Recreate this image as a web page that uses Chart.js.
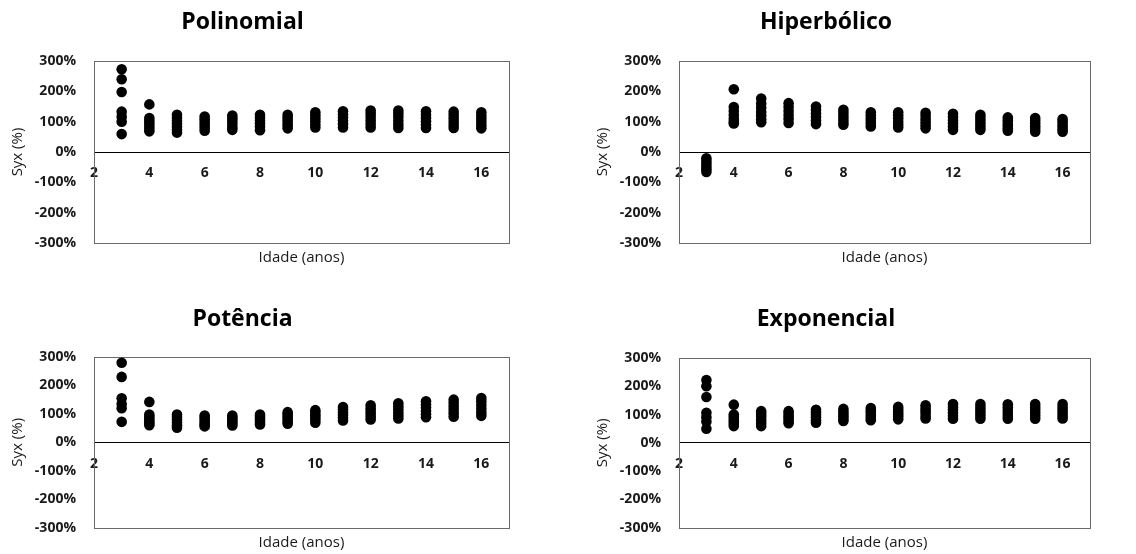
<!DOCTYPE html>
<html>
<head>
<meta charset="utf-8">
<script src="https://cdn.jsdelivr.net/npm/chart.js@4"></script>
<style>
  html, body { margin: 0; padding: 0; background: #fff; overflow: hidden; width: 1136px; height: 554px; position: relative; }
  canvas { position: absolute; }
</style>
</head>
<body>
<canvas id="c1" width="568" height="277" style="left:-24px;top:0px"></canvas>
<canvas id="c2" width="568" height="277" style="left:562px;top:0px"></canvas>
<canvas id="c3" width="568" height="277" style="left:-24px;top:277px"></canvas>
<canvas id="c4" width="568" height="277" style="left:562px;top:277px"></canvas>
<script>
// ages (x) and tick labels
var AGES = [3, 4, 5, 6, 7, 8, 9, 10, 11, 12, 13, 14, 15, 16];
var X_TICKS = [2, 4, 6, 8, 10, 12, 14, 16];
var Y_TICKS = [-300, -200, -100, 0, 100, 200, 300];

// Syx (%) values per age, one row per age in AGES
var POLINOMIAL = [
  [273, 240, 198, 133, 116, 100, 59],
  [157, 112, 103, 95, 86, 77, 68],
  [123, 113, 103, 93, 83, 73, 64],
  [117, 108, 99, 90, 80, 70],
  [120, 111, 102, 92, 82, 73],
  [123, 114, 104, 94, 83, 72],
  [123, 114, 105, 96, 87, 78],
  [131, 121, 111, 101, 91, 81],
  [134, 124, 114, 103, 92, 81],
  [137, 126, 115, 104, 92, 81],
  [137, 126, 115, 103, 91, 79],
  [134, 123, 112, 101, 90, 79],
  [133, 122, 111, 100, 89, 79],
  [131, 120, 110, 99, 88, 78]
];
var HIPERBOLICO = [
  [-21, -30, -39, -48, -57, -66],
  [207, 148, 135, 122, 110, 100, 94],
  [176, 160, 146, 132, 120, 108, 98],
  [161, 148, 135, 122, 110, 96],
  [150, 139, 127, 115, 103, 92],
  [139, 129, 119, 109, 99, 90],
  [131, 121, 111, 102, 93, 84],
  [131, 121, 111, 100, 90, 81],
  [129, 119, 108, 98, 88, 78],
  [126, 115, 104, 94, 83, 73],
  [123, 113, 103, 93, 83, 73],
  [114, 105, 96, 87, 78, 70],
  [112, 103, 94, 85, 76, 67],
  [109, 101, 92, 84, 75, 67]
];
var POTENCIA = [
  [280, 230, 155, 135, 120, 72],
  [142, 98, 90, 82, 74, 67, 60],
  [98, 89, 80, 70, 60, 51],
  [94, 86, 78, 70, 63, 56],
  [94, 87, 80, 73, 66, 59],
  [98, 91, 84, 77, 70, 63],
  [106, 98, 90, 82, 73, 65],
  [113, 104, 95, 87, 78, 69],
  [124, 115, 105, 96, 86, 77],
  [130, 120, 110, 100, 90, 80],
  [137, 127, 116, 105, 94, 84],
  [144, 133, 122, 110, 99, 88],
  [150, 138, 126, 114, 102, 90],
  [156, 144, 131, 118, 105, 93]
];
var EXPONENCIAL = [
  [222, 200, 162, 106, 90, 75, 50],
  [135, 100, 92, 84, 76, 67, 59],
  [112, 102, 92, 81, 70, 59],
  [112, 103, 94, 86, 77, 69],
  [117, 108, 99, 90, 80, 71],
  [120, 111, 102, 94, 85, 77],
  [123, 114, 106, 97, 88, 80],
  [127, 118, 109, 101, 92, 83],
  [133, 123, 114, 105, 95, 86],
  [137, 127, 117, 106, 96, 85],
  [137, 127, 117, 106, 96, 85],
  [136, 126, 116, 105, 95, 85],
  [137, 127, 117, 106, 96, 85],
  [137, 127, 117, 106, 96, 86]
];

var FONT = "'Open Sans', sans-serif";

// frame round the plot area
var boxPlugin = {
  id: 'plotBox',
  beforeDatasetsDraw: function (chart) {
    var a = chart.chartArea, ctx = chart.ctx;
    ctx.save();
    ctx.strokeStyle = '#6a6a6a';
    ctx.lineWidth = 1;
    ctx.strokeRect(Math.round(a.left) + 0.5, Math.round(a.top) + 0.5, Math.round(a.right - a.left), Math.round(a.bottom - a.top));
    ctx.restore();
  }
};

function makeChart(id, titleText, values, g) {
  var points = [];
  for (var i = 0; i < AGES.length; i++) {
    for (var j = 0; j < values[i].length; j++) {
      points.push({x: AGES[i], y: values[i][j]});
    }
  }
  var h = 277;
  new Chart(document.getElementById(id), {
    type: 'scatter',
    data: {
      datasets: [{
        data: points,
        xAxisID: 'x',
        yAxisID: 'y',
        pointRadius: 5.3,
        pointHoverRadius: 5.3,
        pointBorderWidth: 0,
        pointBackgroundColor: '#000',
        borderColor: '#000'
      }]
    },
    options: {
      responsive: false,
      animation: false,
      events: [],
      layout: {padding: {left: 0, right: g.padRight, top: 0, bottom: 0}},
      plugins: {
        legend: {display: false},
        tooltip: {enabled: false},
        title: {
          display: true,
          text: titleText,
          color: '#000',
          font: {family: FONT, size: 23, weight: 'bold', lineHeight: 1.2},
          padding: {top: g.titleY - 13.8, bottom: g.top - g.titleY - 13.8}
        }
      },
      scales: {
        x: {
          type: 'linear',
          position: {y: 0},
          min: 2,
          max: 17,
          afterBuildTicks: function (s) { s.ticks = X_TICKS.map(function (v) { return {value: v}; }); },
          grid: {display: false, drawTicks: false},
          border: {display: true, color: '#000', width: 1},
          ticks: {padding: 13, color: '#1a1a1a', font: {family: FONT, size: 14, weight: 'bold'}}
        },
        x2: {
          type: 'linear',
          position: 'bottom',
          grid: {display: false, drawTicks: false},
          border: {display: false},
          ticks: {display: false},
          afterFit: function (s) { s.height = h - g.bottom; },
          title: {
            display: true,
            text: 'Idade (anos)',
            color: '#1a1a1a',
            font: {family: FONT, size: 15, lineHeight: 1.2},
            padding: {top: 0, bottom: g.xTitleOff - 9}
          }
        },
        y: {
          type: 'linear',
          position: 'left',
          min: -300,
          max: 300,
          afterBuildTicks: function (s) { s.ticks = Y_TICKS.map(function (v) { return {value: v}; }); },
          afterFit: function (s) { s.width = g.left; },
          grid: {display: false, drawTicks: false},
          border: {display: false},
          ticks: {
            padding: 18,
            color: '#1a1a1a',
            font: {family: FONT, size: 14, weight: 'bold'},
            callback: function (v) { return v + '%'; }
          },
          title: {
            display: true,
            text: 'Syx (%)',
            color: '#1a1a1a',
            font: {family: FONT, size: 15, lineHeight: 1.2},
            padding: {top: g.yTitleX - 9, bottom: 0}
          }
        }
      }
    },
    plugins: [boxPlugin]
  });
}

makeChart('c1', 'Polinomial', POLINOMIAL, {left: 118, padRight: 35, top: 61, bottom: 243, titleY: 22, xTitleOff: 19, yTitleX: 42});
makeChart('c2', 'Hiperbólico', HIPERBOLICO, {left: 117, padRight: 40, top: 61, bottom: 243, titleY: 22, xTitleOff: 19, yTitleX: 41});
makeChart('c3', 'Potência', POTENCIA, {left: 118, padRight: 35, top: 80, bottom: 252, titleY: 42, xTitleOff: 10, yTitleX: 42});
makeChart('c4', 'Exponencial', EXPONENCIAL, {left: 117, padRight: 40, top: 81, bottom: 252, titleY: 42, xTitleOff: 10, yTitleX: 41});
</script>
</body>
</html>
